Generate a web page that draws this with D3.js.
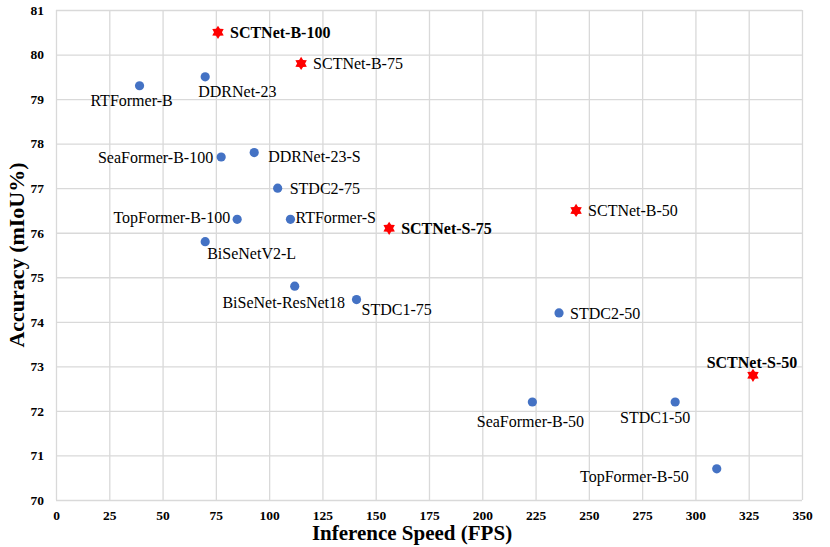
<!DOCTYPE html>
<html>
<head>
<meta charset="utf-8">
<script src="https://cdn.jsdelivr.net/npm/d3@7"></script>
<style>
  body { margin: 0; background: #fff; }
  svg { display: block; }
  text { font-family: "Liberation Serif", "Times New Roman", serif; }
</style>
</head>
<body>
<svg id="chart" width="830" height="547"></svg>
<script>
// models
const models = ["SCTNet-B-100", "SCTNet-B-75", "RTFormer-B", "DDRNet-23", "SeaFormer-B-100",
  "DDRNet-23-S", "STDC2-75", "TopFormer-B-100", "RTFormer-S", "SCTNet-S-75", "BiSeNetV2-L",
  "BiSeNet-ResNet18", "STDC1-75", "SCTNet-B-50", "STDC2-50", "SCTNet-S-50", "SeaFormer-B-50",
  "STDC1-50", "TopFormer-B-50"];
const fps  = [76, 115, 39.2, 70, 77.5, 93, 104, 85, 110, 156.3, 70, 112, 141, 244, 236, 327, 223.5, 290.5, 310];
const miou = [80.5, 79.8, 79.3, 79.5, 77.7, 77.8, 77.0, 76.3, 76.3, 76.1, 75.8, 74.8, 74.5, 76.5, 74.2, 72.8, 72.2, 72.2, 70.7];
const ours = ["SCTNet-B-100", "SCTNet-B-75", "SCTNet-S-75", "SCTNet-B-50", "SCTNet-S-50"];

const xTicks = d3.range(0, 351, 25);
const yTicks = d3.range(70, 82, 1);

// label placement: [dx, dy, anchor] relative to the marker
const labelPlace = {
  "SCTNet-B-100": [12, 0, "start"], "SCTNet-B-75": [12, 0, "start"],
  "RTFormer-B": [-8, 15, "middle"], "DDRNet-23": [-7, 15, "start"],
  "SeaFormer-B-100": [-8, 0, "end"], "DDRNet-23-S": [14, 4, "start"],
  "STDC2-75": [12, 0, "start"], "TopFormer-B-100": [-7, -2, "end"],
  "RTFormer-S": [5, -2, "start"], "SCTNet-S-75": [12, 0, "start"],
  "BiSeNetV2-L": [2, 12, "start"], "BiSeNet-ResNet18": [-11, 16, "middle"],
  "STDC1-75": [5, 10, "start"], "SCTNet-B-50": [12, 0, "start"],
  "STDC2-50": [11, 0, "start"], "SCTNet-S-50": [-1, -13, "middle"],
  "SeaFormer-B-50": [-2, 19, "middle"], "STDC1-50": [-20, 15, "middle"],
  "TopFormer-B-50": [-28, 8, "end"]
};
const boldLabels = ["SCTNet-B-100", "SCTNet-S-75", "SCTNet-S-50"];

const data = models.map((m, i) => ({ name: m, fps: fps[i], miou: miou[i], ours: ours.includes(m) }));

const svg = d3.select("#chart");
const x = d3.scaleLinear().domain([0, 350]).range([56, 802]);
const y = d3.scaleLinear().domain([70, 81]).range([500, 10]);

// grid via axes
const gx = svg.append("g")
  .attr("transform", `translate(0,${y(70)})`)
  .call(d3.axisBottom(x).tickValues(xTicks).tickSize(-(y(70) - y(81))).tickPadding(10));
const gy = svg.append("g")
  .attr("transform", `translate(${x(0)},0)`)
  .call(d3.axisLeft(y).tickValues(yTicks).tickSize(-(x(350) - x(0))).tickPadding(12));

[gx, gy].forEach(g => {
  g.select(".domain").remove();
  g.selectAll("line").attr("stroke", "#d9d9d9").attr("stroke-width", 1.3);
  g.selectAll("text")
    .attr("fill", "#000")
    .style("font-family", "Liberation Serif")
    .style("font-size", "13.5px")
    .style("font-weight", "bold");
});

// six-pointed star marker
const hexStar = {
  draw(ctx, size) {
    const R = Math.sqrt(size / 1.6), r = R * 0.6;
    for (let k = 0; k < 12; k++) {
      const a = -Math.PI / 2 + k * Math.PI / 6;
      const rr = k % 2 ? r : R;
      k ? ctx.lineTo(rr * Math.cos(a), rr * Math.sin(a)) : ctx.moveTo(rr * Math.cos(a), rr * Math.sin(a));
    }
    ctx.closePath();
  }
};

svg.selectAll("circle.pt")
  .data(data.filter(d => !d.ours))
  .join("circle")
    .attr("class", "pt")
    .attr("cx", d => x(d.fps))
    .attr("cy", d => y(d.miou))
    .attr("r", 4.6)
    .attr("fill", "#4472c4");

svg.selectAll("path.star")
  .data(data.filter(d => d.ours))
  .join("path")
    .attr("class", "star")
    .attr("transform", d => `translate(${x(d.fps)},${y(d.miou)})`)
    .attr("d", d3.symbol().type(hexStar).size(70))
    .attr("fill", "#ff0000");

svg.selectAll("text.lbl")
  .data(data)
  .join("text")
    .attr("class", "lbl")
    .attr("x", d => x(d.fps) + labelPlace[d.name][0])
    .attr("y", d => y(d.miou) + labelPlace[d.name][1])
    .attr("dy", "0.35em")
    .attr("text-anchor", d => labelPlace[d.name][2])
    .style("font-size", "16px")
    .style("font-weight", d => boldLabels.includes(d.name) ? "bold" : "normal")
    .attr("fill", "#000")
    .text(d => d.name);

// axis titles
svg.append("text")
  .attr("x", 412)
  .attr("y", 540)
  .attr("text-anchor", "middle")
  .style("font-size", "21px")
  .style("font-weight", "bold")
  .text("Inference Speed (FPS)");

svg.append("text")
  .attr("transform", `translate(24,${(y(70) + y(81)) / 2}) rotate(-90)`)
  .attr("text-anchor", "middle")
  .style("font-size", "22px")
  .style("font-weight", "bold")
  .text("Accuracy (mIoU%)");
</script>
</body>
</html>
